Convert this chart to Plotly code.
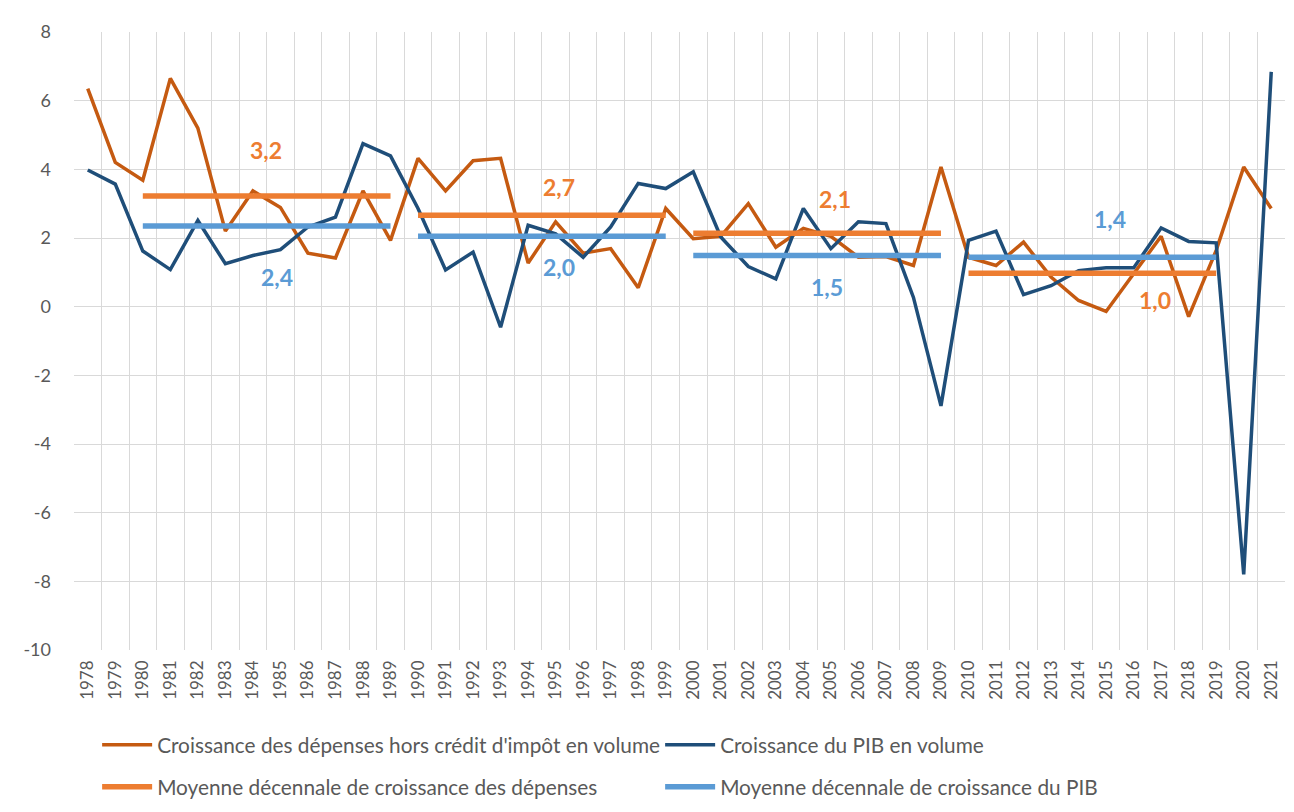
import plotly.graph_objects as go

# Data
years = [str(y) for y in range(1978, 2022)]

depenses = [6.35, 4.20, 3.68, 6.65, 5.20, 2.20, 3.37, 2.89, 1.56, 1.42,
            3.37, 1.93, 4.32, 3.37, 4.25, 4.32, 1.27, 2.47, 1.56, 1.69,
            0.55, 2.86, 1.98, 2.05, 3.00, 1.73, 2.28, 2.05, 1.44, 1.46,
            1.20, 4.07, 1.44, 1.20, 1.88, 0.86, 0.18, -0.14, 0.96, 2.05,
            -0.29, 1.64, 4.07, 2.86]

pib = [3.98, 3.57, 1.62, 1.08, 2.51, 1.25, 1.49, 1.66, 2.32, 2.61,
       4.75, 4.39, 2.86, 1.07, 1.59, -0.60, 2.37, 2.12, 1.44, 2.32,
       3.59, 3.44, 3.93, 2.03, 1.17, 0.81, 2.86, 1.69, 2.47, 2.42,
       0.27, -2.89, 1.93, 2.20, 0.35, 0.61, 1.05, 1.13, 1.13, 2.29,
       1.90, 1.86, -7.80, 6.84]

decades = [1980, 1990, 2000, 2010]
moy_depenses = [3.22, 2.66, 2.14, 0.97]
moy_pib = [2.35, 2.05, 1.49, 1.44]
lbl_depenses = ["3,2", "2,7", "2,1", "1,0"]
lbl_pib = ["2,4", "2,0", "1,5", "1,4"]

y_ticks = list(range(-10, 9, 2))
y_ticktext = [str(v) for v in y_ticks]

# Colors
c_dep = "#C55A11"
c_pib = "#1F4E79"
c_moy_dep = "#ED7D31"
c_moy_pib = "#5B9BD5"
grey = "#595959"
FONT = "Lato, 'Open Sans', sans-serif"


def decade_series(means):
    xs, ys = [], []
    for d, m in zip(decades, means):
        for y in range(d, d + 10):
            xs.append(str(y))
            ys.append(m)
        xs.append(str(d + 9))
        ys.append(None)
    return xs, ys


fig = go.Figure()

fig.add_trace(go.Scatter(
    x=years, y=depenses, mode="lines", name="Croissance des dépenses hors crédit d'impôt en volume",
    line=dict(color=c_dep, width=3.5), legend="legend"
))
fig.add_trace(go.Scatter(
    x=years, y=pib, mode="lines", name="Croissance du PIB en volume",
    line=dict(color=c_pib, width=3.5), legend="legend"
))

mx, my = decade_series(moy_depenses)
fig.add_trace(go.Scatter(
    x=mx, y=my, mode="lines", name="Moyenne décennale de croissance des dépenses",
    line=dict(color=c_moy_dep, width=5.5), connectgaps=False, legend="legend2"
))
px_, py_ = decade_series(moy_pib)
fig.add_trace(go.Scatter(
    x=px_, y=py_, mode="lines", name="Moyenne décennale de croissance du PIB",
    line=dict(color=c_moy_pib, width=5.5), connectgaps=False, legend="legend2"
))

# Decade average labels (x as category index, y in data units)
dep_pos = [(6.47, 4.55), (17.13, 3.49), (27.16, 3.14), (38.76, 0.20)]
pib_pos = [(6.87, 0.86), (17.13, 1.15), (26.87, 0.56), (37.13, 2.56)]
for (x, y), t in zip(dep_pos, lbl_depenses):
    fig.add_annotation(x=x, y=y, text=t, showarrow=False,
                       font=dict(family=FONT, size=23, color=c_moy_dep, weight="bold"))
for (x, y), t in zip(pib_pos, lbl_pib):
    fig.add_annotation(x=x, y=y, text=t, showarrow=False,
                       font=dict(family=FONT, size=23, color=c_moy_pib, weight="bold"))

legend_common = dict(orientation="h", x=0.0191, xanchor="left", yanchor="middle",
                     itemwidth=50, entrywidth=498, entrywidthmode="pixels",
                     font=dict(family=FONT, size=20.8, color=grey),
                     bgcolor="rgba(0,0,0,0)")

# page body has an 8px margin, so the figure is sized/offset to compensate
fig.update_layout(
    width=1286, height=804,
    margin=dict(l=66, r=9, t=24, b=162, autoexpand=False),
    paper_bgcolor="white", plot_bgcolor="white",
    font=dict(family=FONT, color=grey, size=17),
    showlegend=True,
    legend=dict(legend_common, y=-0.154),
    legend2=dict(legend_common, y=-0.222),
    xaxis=dict(type="category", range=[-0.5, len(years) - 0.5], tickson="boundaries",
               showgrid=True, gridcolor="#D9D9D9",
               gridwidth=1, tickangle=-90, ticks="", showline=False, zeroline=False,
               automargin=False, ticklabelstandoff=6,
               tickfont=dict(family=FONT, size=17, color=grey)),
    yaxis=dict(range=[-10, 8], tickvals=y_ticks, ticktext=y_ticktext, showgrid=True,
               gridcolor="#D9D9D9", gridwidth=1, zeroline=False, showline=False,
               ticks="", ticklabelstandoff=22, automargin=False,
               tickfont=dict(family=FONT, size=18, color=grey)),
)

fig.write_html("out.html")
